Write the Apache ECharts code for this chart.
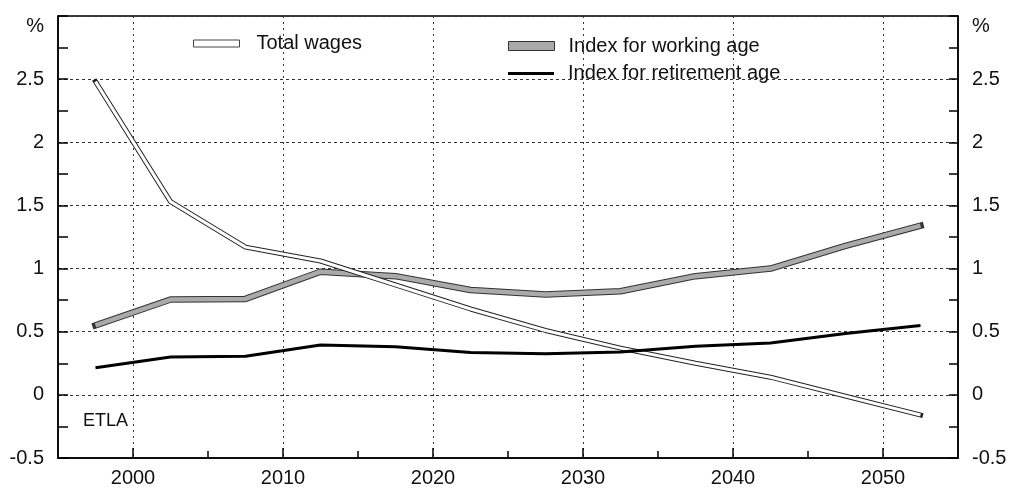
<!DOCTYPE html>
<html>
<head>
<meta charset="utf-8">
<script src="https://cdn.jsdelivr.net/npm/echarts@6/dist/echarts.min.js"></script>
<style>
html,body{margin:0;padding:0;background:#fff;}
#chart{width:1010px;height:489px;}
</style>
</head>
<body>
<div id="chart"></div>
<script>
// ---- data ----
const years = [1997.5, 2002.5, 2007.5, 2012.5, 2017.5, 2022.5, 2027.5, 2032.5, 2037.5, 2042.5, 2047.5, 2052.5];
const totalWages = [2.48, 1.53, 1.17, 1.06, 0.87, 0.68, 0.51, 0.37, 0.25, 0.14, -0.01, -0.16];
const workingAge = [0.55, 0.755, 0.76, 0.975, 0.94, 0.83, 0.795, 0.82, 0.94, 1.0, 1.18, 1.34];
const retirementAge = [0.215, 0.30, 0.305, 0.395, 0.38, 0.335, 0.325, 0.34, 0.385, 0.41, 0.485, 0.55];
const majorYears = [2000, 2010, 2020, 2030, 2040, 2050];
const minorYears = [2005, 2015, 2025, 2035, 2045];
const seriesNames = ['Total wages', 'Index for working age', 'Index for retirement age'];
const sourceLabel = 'ETLA';

const FONT = '"Liberation Sans", Arial, Helvetica, sans-serif';
const pairs = vals => years.map((y, i) => [y, vals[i]]);

const chart = echarts.init(document.getElementById('chart'), null, {renderer: 'canvas'});

function yAxis(pos, tickLen, split) {
  return {
    type: 'value', position: pos, min: -0.5, max: 3, interval: 0.5,
    axisLine: {show: true, lineStyle: {color: '#000', width: 1.5}},
    axisTick: {show: true, inside: true, length: tickLen, lineStyle: {color: '#000', width: 1.5}},
    minorTick: {show: true, splitNumber: 2, length: tickLen, lineStyle: {color: '#000', width: 1.5}},
    axisLabel: {
      margin: 14, fontSize: 20, color: '#111', fontFamily: FONT,
      formatter: v => v === 3 ? '{p|%}' : String(v),
      rich: {p: {padding: [20, 0, 0, 0], fontSize: 20, color: '#111', fontFamily: FONT}}
    },
    splitLine: {show: split, lineStyle: {type: [3, 3], color: '#333', width: 1}},
    minorSplitLine: {show: false}
  };
}

const option = {
  backgroundColor: '#fff',
  animation: false,
  grid: {left: 58, right: 52, top: 16, bottom: 31, show: true, borderColor: '#000', borderWidth: 1.5, backgroundColor: 'transparent'},
  legend: [
    {
      left: 193, top: 33.5, padding: 0, orient: 'vertical', itemWidth: 46, itemHeight: 7, selectedMode: false,
      textStyle: {fontSize: 20, color: '#111', fontFamily: FONT, padding: [0, 0, 0, 12]},
      data: [{name: seriesNames[0], icon: 'rect', itemStyle: {color: '#fff', borderColor: '#444', borderWidth: 1}}]
    },
    {
      left: 508, top: 36, padding: 0, orient: 'vertical', itemWidth: 46, itemHeight: 9, selectedMode: false,
      textStyle: {fontSize: 20, color: '#111', fontFamily: FONT, padding: [0, 0, 0, 9]},
      data: [{name: seriesNames[1], icon: 'rect', itemStyle: {color: '#aaa', borderColor: '#333', borderWidth: 1}}]
    },
    {
      left: 508, top: 63.5, padding: 0, orient: 'vertical', itemWidth: 46, itemHeight: 3, selectedMode: false,
      textStyle: {fontSize: 20, color: '#111', fontFamily: FONT, padding: [0, 0, 0, 9]},
      data: [{name: seriesNames[2], icon: 'rect', itemStyle: {color: '#000', borderWidth: 0}}]
    }
  ],
  xAxis: [
    {
      type: 'value', position: 'bottom', min: 1995, max: 2055,
      axisLine: {show: true, onZero: false, lineStyle: {color: '#000', width: 1.5}},
      axisTick: {show: true, inside: true, length: 10, customValues: majorYears, lineStyle: {color: '#000', width: 1.5}},
      axisLabel: {customValues: majorYears, margin: 10, fontSize: 20, color: '#111', fontFamily: FONT, formatter: v => String(v)},
      splitLine: {show: true, lineStyle: {type: [2, 4], color: '#333', width: 1}}
    },
    {
      type: 'value', position: 'bottom', min: 1995, max: 2055,
      axisLine: {show: false, onZero: false},
      axisTick: {show: true, inside: true, length: 7, customValues: minorYears, lineStyle: {color: '#000', width: 1.5}},
      axisLabel: {show: false},
      splitLine: {show: false}
    }
  ],
  yAxis: [yAxis('left', 10, true), yAxis('right', 9, false)],
  graphic: [
    {type: 'text', left: 83, top: 412, style: {text: sourceLabel, fontSize: 18, fill: '#111', fontFamily: FONT}}
  ],
  series: [
    {name: seriesNames[1], type: 'line', data: pairs(workingAge), showSymbol: false, z: 2,
     lineStyle: {color: '#333', width: 6.5, cap: 'square'}, itemStyle: {color: '#aaa'}},
    {name: '_wa_inner', type: 'line', data: pairs(workingAge), showSymbol: false, z: 3,
     lineStyle: {color: '#aaa', width: 4.5, cap: 'butt'}},
    {name: seriesNames[0], type: 'line', data: pairs(totalWages), showSymbol: false, z: 4,
     lineStyle: {color: '#222', width: 5, cap: 'square'}, itemStyle: {color: '#fff'}},
    {name: '_tw_inner', type: 'line', data: pairs(totalWages), showSymbol: false, z: 5,
     lineStyle: {color: '#fff', width: 3, cap: 'butt'}},
    {name: seriesNames[2], type: 'line', data: pairs(retirementAge), showSymbol: false, z: 6,
     lineStyle: {color: '#000', width: 3, cap: 'butt'}, itemStyle: {color: '#000'}}
  ]
};
chart.setOption(option);
</script>
</body>
</html>
